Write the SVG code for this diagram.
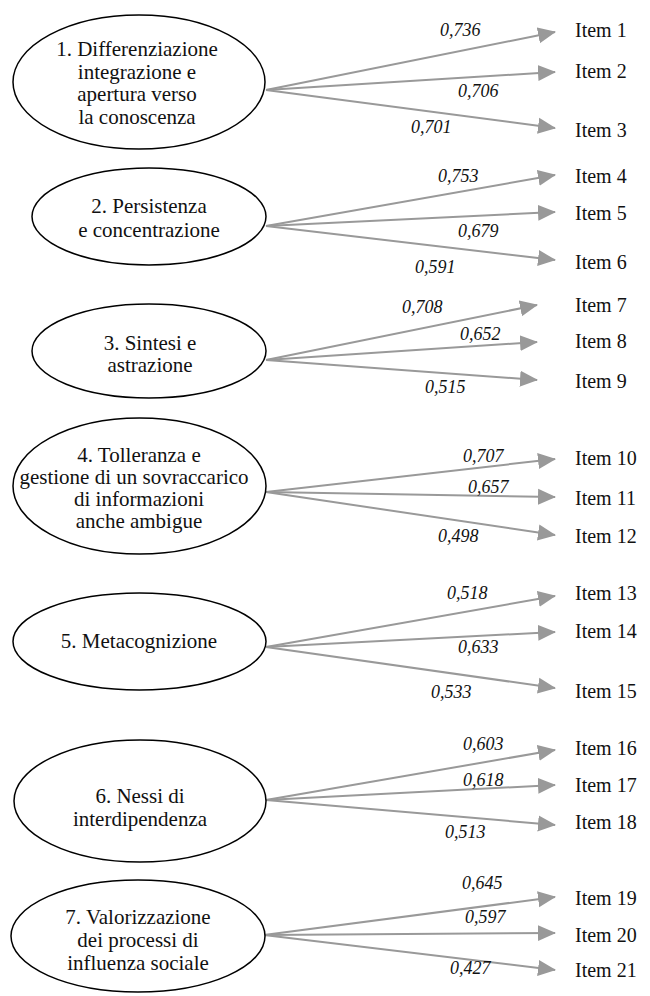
<svg xmlns="http://www.w3.org/2000/svg" width="650" height="996" viewBox="0 0 650 996">
<style>
.ell{fill:#fff;stroke:#000;stroke-width:1.5}
.lbl{font-family:"Liberation Serif",serif;font-size:21px;fill:#111;text-anchor:middle}
.item{font-family:"Liberation Serif",serif;font-size:20px;fill:#111}
.coef{font-family:"Liberation Serif",serif;font-style:italic;font-size:18px;fill:#111}
.arr{stroke:#999;stroke-width:2;fill:none;marker-end:url(#ah)}
</style>
<defs>
<marker id="ah" markerUnits="userSpaceOnUse" markerWidth="18" markerHeight="18" viewBox="0 0 18 18" refX="17" refY="9" orient="auto">
<path d="M0,1 L18,9 L0,17 Z" fill="#999"/>
</marker>
</defs>
<rect width="650" height="996" fill="#fff"/>
<g id="connectors">
<line class="arr" x1="266" y1="90" x2="555" y2="32"/>
<line class="arr" x1="266" y1="90" x2="555" y2="72"/>
<line class="arr" x1="266" y1="90" x2="555" y2="128"/>
<line class="arr" x1="266" y1="226" x2="555" y2="175"/>
<line class="arr" x1="266" y1="226" x2="555" y2="212"/>
<line class="arr" x1="266" y1="226" x2="555" y2="260"/>
<line class="arr" x1="266" y1="360" x2="537" y2="305"/>
<line class="arr" x1="266" y1="360" x2="537" y2="342"/>
<line class="arr" x1="266" y1="360" x2="537" y2="380"/>
<line class="arr" x1="266" y1="492" x2="555" y2="459"/>
<line class="arr" x1="266" y1="492" x2="555" y2="497"/>
<line class="arr" x1="266" y1="492" x2="555" y2="535"/>
<line class="arr" x1="266" y1="647" x2="555" y2="596"/>
<line class="arr" x1="266" y1="647" x2="555" y2="632"/>
<line class="arr" x1="266" y1="647" x2="555" y2="688"/>
<line class="arr" x1="266" y1="800" x2="555" y2="750"/>
<line class="arr" x1="266" y1="800" x2="555" y2="785"/>
<line class="arr" x1="266" y1="800" x2="555" y2="825"/>
<line class="arr" x1="264" y1="935" x2="555" y2="897"/>
<line class="arr" x1="264" y1="935" x2="555" y2="933"/>
<line class="arr" x1="264" y1="935" x2="555" y2="970"/>
</g>
<g id="coefficients">
<text class="coef" x="440" y="36">0,736</text>
<text class="coef" x="458" y="97">0,706</text>
<text class="coef" x="411" y="133">0,701</text>
<text class="coef" x="438" y="182">0,753</text>
<text class="coef" x="458" y="237">0,679</text>
<text class="coef" x="415" y="273">0,591</text>
<text class="coef" x="402" y="313">0,708</text>
<text class="coef" x="460" y="340">0,652</text>
<text class="coef" x="425" y="393">0,515</text>
<text class="coef" x="463" y="462">0,707</text>
<text class="coef" x="468" y="493">0,657</text>
<text class="coef" x="438" y="542">0,498</text>
<text class="coef" x="447" y="599">0,518</text>
<text class="coef" x="458" y="653">0,633</text>
<text class="coef" x="431" y="698">0,533</text>
<text class="coef" x="463" y="750">0,603</text>
<text class="coef" x="463" y="786">0,618</text>
<text class="coef" x="445" y="838">0,513</text>
<text class="coef" x="462" y="889">0,645</text>
<text class="coef" x="465" y="923">0,597</text>
<text class="coef" x="450" y="974">0,427</text>
</g>
<g id="f1">
<ellipse class="ell" cx="139" cy="82" rx="126" ry="67"/>
<text class="lbl" x="137" y="56">1. Differenziazione</text>
<text class="lbl" x="137" y="78.5">integrazione e</text>
<text class="lbl" x="137" y="101">apertura verso</text>
<text class="lbl" x="137" y="123.5">la conoscenza</text>
</g>
<g id="f2">
<ellipse class="ell" cx="149" cy="216.5" rx="117" ry="48.5"/>
<text class="lbl" x="149" y="213">2. Persistenza</text>
<text class="lbl" x="149" y="237">e concentrazione</text>
</g>
<g id="f3">
<ellipse class="ell" cx="149" cy="351" rx="117" ry="47"/>
<text class="lbl" x="150" y="350">3. Sintesi e</text>
<text class="lbl" x="150" y="372">astrazione</text>
</g>
<g id="f4">
<ellipse class="ell" cx="139.5" cy="486" rx="126.5" ry="68"/>
<text class="lbl" x="139" y="462">4. Tolleranza e</text>
<text class="lbl" x="134" y="484">gestione di un sovraccarico</text>
<text class="lbl" x="139" y="506">di informazioni</text>
<text class="lbl" x="139" y="528">anche ambigue</text>
</g>
<g id="f5">
<ellipse class="ell" cx="139.5" cy="641.5" rx="126.5" ry="48.5"/>
<text class="lbl" x="139" y="648">5. Metacognizione</text>
</g>
<g id="f6">
<ellipse class="ell" cx="140" cy="801" rx="126" ry="61"/>
<text class="lbl" x="140" y="803">6. Nessi di</text>
<text class="lbl" x="140" y="826">interdipendenza</text>
</g>
<g id="f7">
<ellipse class="ell" cx="138" cy="936" rx="127" ry="56"/>
<text class="lbl" x="138" y="924">7. Valorizzazione</text>
<text class="lbl" x="138" y="947">dei processi di</text>
<text class="lbl" x="138" y="970">influenza sociale</text>
</g>
<g id="items">
<text class="item" x="575" y="37">Item 1</text>
<text class="item" x="575" y="78">Item 2</text>
<text class="item" x="575" y="137">Item 3</text>
<text class="item" x="575" y="183">Item 4</text>
<text class="item" x="575" y="220">Item 5</text>
<text class="item" x="575" y="269">Item 6</text>
<text class="item" x="575" y="312">Item 7</text>
<text class="item" x="575" y="348">Item 8</text>
<text class="item" x="575" y="388">Item 9</text>
<text class="item" x="575" y="465">Item 10</text>
<text class="item" x="575" y="505">Item 11</text>
<text class="item" x="575" y="543">Item 12</text>
<text class="item" x="575" y="600">Item 13</text>
<text class="item" x="575" y="638">Item 14</text>
<text class="item" x="575" y="698">Item 15</text>
<text class="item" x="575" y="755">Item 16</text>
<text class="item" x="575" y="792">Item 17</text>
<text class="item" x="575" y="829">Item 18</text>
<text class="item" x="575" y="905">Item 19</text>
<text class="item" x="575" y="942">Item 20</text>
<text class="item" x="575" y="977">Item 21</text>
</g>
</svg>
